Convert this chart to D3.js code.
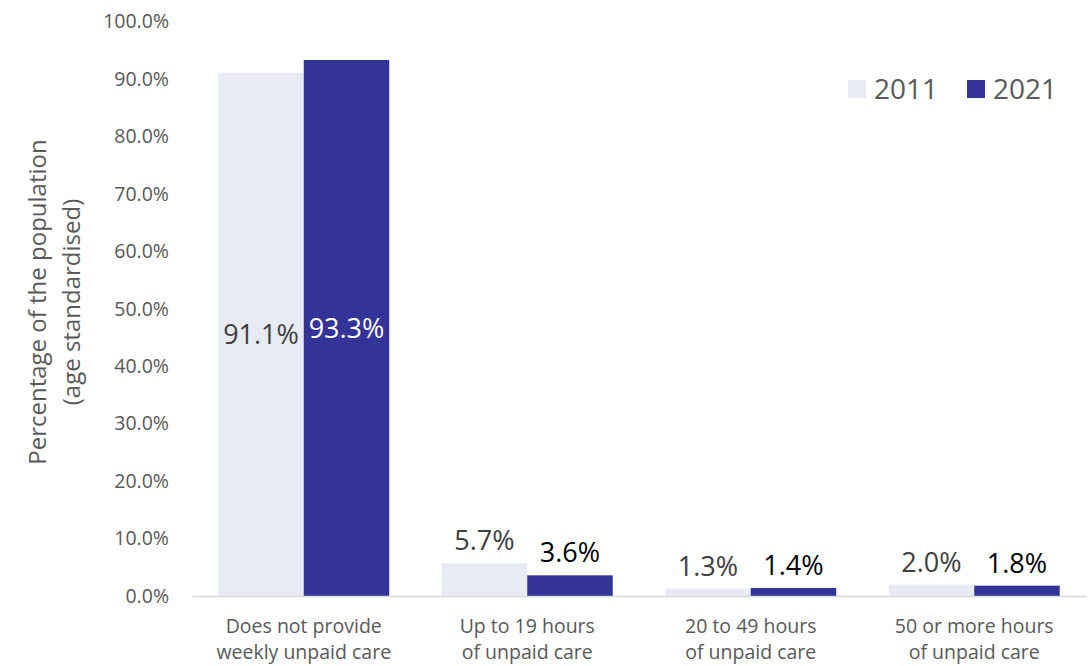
<!DOCTYPE html>
<html>
<head>
<meta charset="utf-8">
<script src="https://cdn.jsdelivr.net/npm/d3@7"></script>
<style>
  body { margin: 0; background: #fff; }
  text { font-family: "Open Sans", "Noto Sans", sans-serif; }
</style>
</head>
<body>
<div id="chart1"></div>
<script>
// data
var categories = [
  ["Does not provide", "weekly unpaid care"],
  ["Up to 19 hours", "of unpaid care"],
  ["20 to 49 hours", "of unpaid care"],
  ["50 or more hours", "of unpaid care"]
];
var years = ["2011", "2021"];
var values2011 = [91.1, 5.7, 1.3, 2.0];
var values2021 = [93.3, 3.6, 1.4, 1.8];
var yTicks = [0, 10, 20, 30, 40, 50, 60, 70, 80, 90, 100];

var w = 1089, h = 666;
var colors = {"2011": "#e8eaf4", "2021": "#343397"};

var svg = d3.select("#chart1")
  .append("svg")
  .attr("width", w)
  .attr("height", h);

var x0 = d3.scaleBand()
  .domain(d3.range(categories.length))
  .range([192, 1086])
  .paddingInner(0.235)
  .paddingOuter(0.1175);

var x1 = d3.scaleBand()
  .domain(years)
  .range([0, x0.bandwidth()]);

var yScale = d3.scaleLinear()
  .domain([0, 100])
  .range([596, 21.5]);

// y axis labels
var yAxis = svg.append("g")
  .attr("transform", "translate(169,0)")
  .call(d3.axisLeft(yScale).tickValues(yTicks).tickSize(0).tickPadding(0)
    .tickFormat(function(d) { return d.toFixed(1) + "%"; }));
yAxis.select(".domain").remove();
yAxis.selectAll("text")
  .attr("fill", "#595959")
  .style("font-size", "19.5px")
  .style("font-family", "Open Sans, Noto Sans, sans-serif");

// bars
var rows = years.map(function(yr, i) {
  var vals = i === 0 ? values2011 : values2021;
  return vals.map(function(v, j) { return {year: yr, cat: j, value: v}; });
});
var all = rows[0].concat(rows[1]);

svg.selectAll("rect.bar")
  .data(all)
  .enter()
  .append("rect")
  .attr("class", "bar")
  .attr("x", function(d) { return x0(d.cat) + x1(d.year); })
  .attr("width", x1.bandwidth())
  .attr("y", function(d) { return yScale(d.value); })
  .attr("height", function(d) { return yScale(0) - yScale(d.value); })
  .attr("fill", function(d) { return colors[d.year]; });

// x axis
var xAxis = svg.append("g")
  .attr("transform", "translate(0," + yScale(0) + ")")
  .call(d3.axisBottom(x0).tickSize(0).tickFormat(""));
xAxis.select(".domain").attr("stroke", "#d9d9d9").attr("stroke-width", 1.5);

var catLabels = svg.selectAll("text.cat")
  .data(categories)
  .enter()
  .append("text")
  .attr("class", "cat")
  .attr("text-anchor", "middle")
  .attr("fill", "#595959")
  .style("font-size", "19.5px");
catLabels.each(function(d, i) {
  var t = d3.select(this);
  d.forEach(function(line, k) {
    t.append("tspan")
      .attr("x", x0(i) + x0.bandwidth() / 2)
      .attr("y", 633 + k * 26)
      .text(line);
  });
});

// data labels
svg.selectAll("text.val")
  .data(all)
  .enter()
  .append("text")
  .attr("class", "val")
  .attr("text-anchor", "middle")
  .style("font-size", "27px")
  .attr("x", function(d) { return x0(d.cat) + x1(d.year) + x1.bandwidth() / 2; })
  .attr("y", function(d) {
    if (d.value > 50) return (yScale(d.value) + yScale(0)) / 2 + 10;
    return yScale(d.value) - 13;
  })
  .attr("fill", function(d) {
    if (d.year === "2021") return d.value > 50 ? "#ffffff" : "#000000";
    return "#404040";
  })
  .text(function(d) { return d.value.toFixed(1) + "%"; });

// legend
var legend = svg.append("g").attr("transform", "translate(848,80)");
var legX = [0, 119];
years.forEach(function(yr, i) {
  legend.append("rect")
    .attr("x", legX[i])
    .attr("y", 0)
    .attr("width", 18)
    .attr("height", 18)
    .attr("fill", colors[yr]);
  legend.append("text")
    .attr("x", legX[i] + 26)
    .attr("y", 19)
    .attr("fill", "#595959")
    .style("font-size", "28px")
    .text(yr);
});

// y axis title
var title = svg.append("text")
  .attr("transform", "translate(0,302) rotate(-90)")
  .attr("text-anchor", "middle")
  .attr("fill", "#595959")
  .style("font-size", "24px");
title.append("tspan").attr("x", 0).attr("y", 46).text("Percentage of the population");
title.append("tspan").attr("x", 0).attr("y", 80).text("(age standardised)");
</script>
</body>
</html>
